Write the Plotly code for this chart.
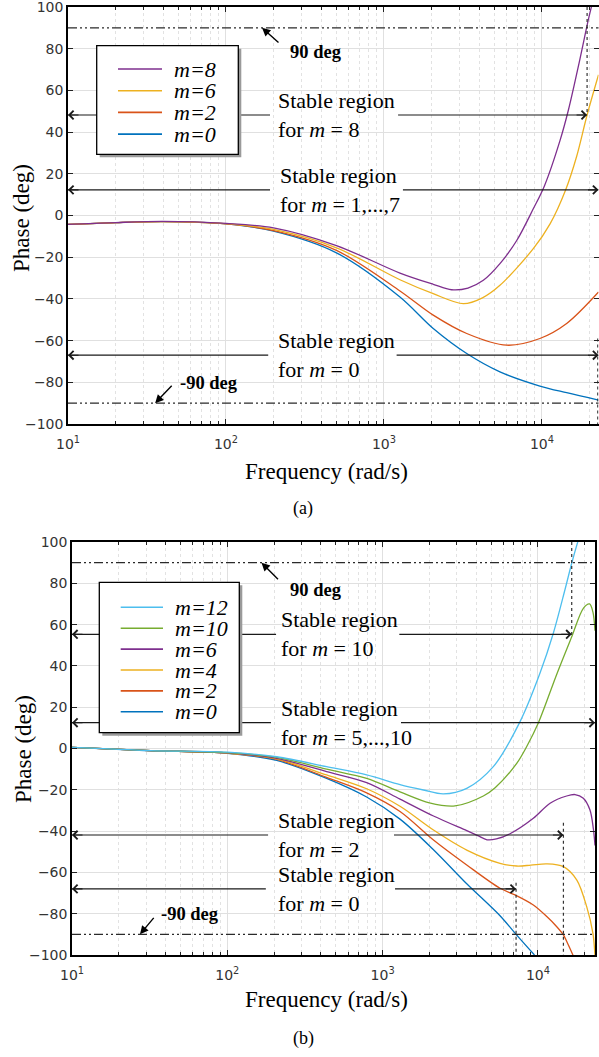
import numpy as np
import plotly.graph_objects as go

W, H = 599, 1057

# ---------------- panel (a) data ----------------
a_names = ["m=8", "m=6", "m=2", "m=0"]
a_colors = ["#7E2F8E", "#EDB120", "#D95319", "#0072BD"]
a_f_m8 = [10, 20, 40, 100, 200, 500, 1262, 2050, 2680, 3400, 4254, 5420, 6920, 8810, 10360, 13000, 14700, 17400, 19640, 21000]
a_p_m8 = [-4.3, -3.4, -2.8, -3.8, -5.9, -14.4, -27.6, -33.0, -35.6, -34.8, -31.1, -23.1, -12.0, 3.2, 14.2, 35.9, 50.6, 75.1, 93.8, 103.0]
a_f_m6 = [10, 20, 40, 100, 200, 500, 1262, 2050, 3180, 4200, 5420, 8810, 11250, 14130, 16550, 19300, 22800]
a_p_m6 = [-4.3, -3.4, -2.9, -3.9, -6.7, -15.5, -30.8, -37.5, -42.3, -39.5, -33.5, -15.9, -4.0, 12.4, 28.2, 48.2, 67.5]
a_f_m2 = [10, 20, 40, 100, 200, 500, 1262, 2050, 3340, 5980, 9700, 14330, 22800]
a_p_m2 = [-4.3, -3.4, -2.9, -4.0, -7.2, -16.7, -36.2, -47.8, -56.6, -62.2, -59.0, -51.8, -36.7]
a_f_m0 = [10, 20, 40, 100, 200, 500, 1262, 2050, 3340, 5420, 9700, 14330, 22800]
a_p_m0 = [-4.3, -3.4, -2.9, -4.0, -7.5, -17.9, -39.1, -54.2, -66.2, -75.0, -81.8, -85.0, -88.5]
a_freqs = [a_f_m8, a_f_m6, a_f_m2, a_f_m0]
a_phases = [a_p_m8, a_p_m6, a_p_m2, a_p_m0]
a_xmax = 22790

a_arrow_levels = [48.2, 12.3, -67.0]
a_arrow_text = ["Stable region<br>for <i>m</i> = 8",
                "Stable region<br>for <i>m</i> = 1,...,7",
                "Stable region<br>for <i>m</i> = 0"]
a_arrow_left_tail = [190, 190, 185]
a_arrow_right_tail = [1228, 1318, 1202]
a_arrow_right_head = [19300, a_xmax, a_xmax]
a_text_f = [207, 213, 207]
a_vlines = [(19300, 100, 48.2), (22550, -59, -100)]

# ---------------- panel (b) data ----------------
b_names = ["m=12", "m=10", "m=6", "m=4", "m=2", "m=0"]
b_colors = ["#4DBEEE", "#77AC30", "#7E2F8E", "#EDB120", "#D95319", "#0072BD"]
b_f_m12 = [10, 32, 100, 208, 436, 789, 1294, 1830, 2460, 3480, 5160, 7670, 10300, 12560, 14940, 16500, 18200, 19500]
b_p_m12 = [0.5, -1.0, -1.8, -4.0, -8.8, -12.8, -17.5, -20.1, -22.0, -19.3, -8.8, 13.0, 36.4, 55.8, 77.0, 89.7, 101.0, 108.0]
b_f_m10 = [10, 32, 100, 208, 436, 789, 1294, 2000, 2925, 4450, 5300, 7300, 8470, 10070, 13220, 16500, 19600, 21500, 22600, 23300]
b_p_m10 = [0.5, -1.0, -2.0, -4.3, -10.0, -14.5, -21.0, -26.3, -27.8, -23.0, -19.0, -7.2, 1.0, 12.5, 36.0, 54.1, 67.9, 70.0, 66.0, 57.0]
b_f_m6 = [10, 32, 100, 208, 436, 789, 1294, 2125, 3480, 4100, 4700, 5400, 6610, 9340, 11970, 15300, 17330, 19600, 21630, 22750, 23300]
b_p_m6 = [0.5, -1.0, -2.1, -4.8, -11.2, -16.5, -24.5, -32.7, -39.8, -42.2, -44.2, -43.8, -41.3, -33.8, -26.5, -23.0, -22.3, -24.1, -29.8, -39.0, -47.0]
b_f_m4 = [10, 32, 100, 208, 436, 789, 1294, 2125, 3480, 5700, 7300, 9000, 11400, 14590, 17800, 20600, 22600, 23300]
b_p_m4 = [0.5, -1.0, -2.2, -5.0, -12.8, -19.5, -28.0, -39.5, -49.2, -55.6, -56.9, -56.5, -55.9, -57.2, -63.7, -76.6, -89.5, -100.5]
b_f_m2 = [10, 32, 100, 208, 436, 789, 1294, 2125, 3480, 5700, 7110, 9340, 11400, 13220, 14590, 15700, 16900]
b_p_m2 = [0.5, -1.0, -2.2, -5.3, -14.0, -21.5, -30.5, -44.3, -56.4, -67.7, -70.9, -75.8, -81.4, -86.3, -90.3, -95.2, -100.5]
b_f_m0 = [10, 32, 100, 208, 436, 789, 1294, 2125, 3480, 5700, 7230, 9500]
b_p_m0 = [0.5, -1.1, -2.3, -5.8, -14.5, -23.5, -34.2, -49.0, -65.5, -81.0, -90.0, -100.0]
b_freqs = [b_f_m12, b_f_m10, b_f_m6, b_f_m4, b_f_m2, b_f_m0]
b_phases = [b_p_m12, b_p_m10, b_p_m6, b_p_m4, b_p_m2, b_p_m0]
b_xmax = 23300

b_arrow_levels = [55.3, 12.5, -41.9, -68.0]
b_arrow_text = ["Stable region<br>for <i>m</i> = 10",
                "Stable region<br>for <i>m</i> = 5,...,10",
                "Stable region<br>for <i>m</i> = 2",
                "Stable region<br>for <i>m</i> = 0"]
b_arrow_left_tail = [206, 191, 183, 177]
b_arrow_right_tail = [1281, 1313, 1183, 1202]
b_arrow_right_head = [16500, b_xmax, 14590, 7230]
b_text_f = [215, 215, 206, 206]
b_vlines = [(16500, 100, 55.3), (14590, -36, -100), (7230, -65, -100)]

y_ticks = list(range(-100, 101, 20))
x_major = [10, 100, 1000, 10000]
x_major_text = ["10<sup>1</sup>", "10<sup>2</sup>", "10<sup>3</sup>", "10<sup>4</sup>"]

SERIF = "Liberation Serif"
SANS = "DejaVu Sans"


def PX(x):
    return x / W


def PY(y):
    return 1 - y / H


fig = go.Figure()

# curves
for xa, ya, freqs, phases, colors, names in [
    ("x", "y", a_freqs, a_phases, a_colors, a_names),
    ("x2", "y2", b_freqs, b_phases, b_colors, b_names),
]:
    for f, p, c, n in reversed(list(zip(freqs, phases, colors, names))):
        fig.add_trace(go.Scatter(x=f, y=p, mode="lines", name=n, xaxis=xa, yaxis=ya,
                                 line=dict(color=c, width=1.3, shape="spline", smoothing=0.9),
                                 showlegend=False, hoverinfo="skip"))

annotations = []
shapes = []


def add_panel_extras(xa, ya, xmax, levels, texts, ltail, rtail, rhead, textf, vlines):
    for lvl, t, lt, rt, rh, tf in zip(levels, texts, ltail, rtail, rhead, textf):
        # arrow shafts
        fig.add_trace(go.Scatter(x=[10, lt, None, rt, rh], y=[lvl, lvl, None, lvl, lvl],
                                 mode="lines", xaxis=xa, yaxis=ya,
                                 line=dict(color="#1a1a1a", width=1.2),
                                 showlegend=False, hoverinfo="skip"))
        # arrow heads (open chevrons)
        for hx, off in [(10, 12), (rh, -12)]:
            annotations.append(dict(xref=xa, yref=ya, x=np.log10(hx), y=lvl, ax=off, ay=0,
                                    text="", showarrow=True, arrowhead=4, arrowsize=1.5,
                                    arrowwidth=1.1, arrowcolor="#1a1a1a", standoff=0))
        annotations.append(dict(xref=xa, yref=ya, x=np.log10(tf), y=lvl, text=t,
                                showarrow=False, xanchor="left", yanchor="middle", align="left",
                                font=dict(family=SERIF, size=22, color="black")))
    for vf, y0, y1 in vlines:
        fig.add_trace(go.Scatter(x=[vf, vf], y=[y0, y1], mode="lines", xaxis=xa, yaxis=ya,
                                 line=dict(color="#333333", width=1.2, dash="dot"),
                                 showlegend=False, hoverinfo="skip"))
    for lvl in (90, -90):
        shapes.append(dict(type="line", xref=xa + " domain", x0=0, x1=1, yref=ya, y0=lvl, y1=lvl,
                           line=dict(color="#2a2a2a", width=1.4, dash="9px,3px,2px,3px,2px,3px"),
                           layer="above"))


add_panel_extras("x", "y", a_xmax, a_arrow_levels, a_arrow_text, a_arrow_left_tail,
                 a_arrow_right_tail, a_arrow_right_head, a_text_f, a_vlines)
add_panel_extras("x2", "y2", b_xmax, b_arrow_levels, b_arrow_text, b_arrow_left_tail,
                 b_arrow_right_tail, b_arrow_right_head, b_text_f, b_vlines)

# 90 / -90 deg labels with filled arrows
deg_marks = [
    ("x", "y", 169, 90, 18, 16, "<b>90 deg</b>", 288, 52),
    ("x", "y", 35.6, -90, 18, -19, "<b>-90 deg</b>", 178, 383),
    ("x2", "y2", 166, 90, 18, 18, "<b>90 deg</b>", 288, 590),
    ("x2", "y2", 27.4, -90, 15, -18, "<b>-90 deg</b>", 159, 914),
]
for xa, ya, hf, hy, ax, ay, txt, tx, ty in deg_marks:
    annotations.append(dict(xref=xa, yref=ya, x=np.log10(hf), y=hy, ax=ax, ay=ay, text="",
                            showarrow=True, arrowhead=2, arrowsize=1.2, arrowwidth=1.4,
                            arrowcolor="black", standoff=0))
    annotations.append(dict(xref="paper", yref="paper", x=PX(tx), y=PY(ty), text=txt,
                            showarrow=False, xanchor="left", yanchor="middle",
                            font=dict(family=SERIF, size=18.5, color="black")))

# manual legends
legends = [
    (a_names, a_colors, (96.7, 45.7, 238.3, 154.3), 69.0, 21.7, 118, 162, 171.7),
    (b_names, b_colors, (99.3, 582.3, 239.3, 732.7), 607.3, 20.9, 120.7, 163, 172.7),
]
for names, colors, (bx0, by0, bx1, by1), r0, dr, lx0, lx1, tx in legends:
    shapes.append(dict(type="rect", xref="paper", yref="paper", x0=PX(bx0 + 3), x1=PX(bx1 + 3),
                       y0=PY(by0 + 3), y1=PY(by1 + 3), fillcolor="#9a9a9a",
                       line=dict(width=0), layer="above"))
    shapes.append(dict(type="rect", xref="paper", yref="paper", x0=PX(bx0), x1=PX(bx1),
                       y0=PY(by0), y1=PY(by1), fillcolor="white",
                       line=dict(color="black", width=1.3), layer="above"))
    for i, (n, c) in enumerate(zip(names, colors)):
        ry = r0 + i * dr
        shapes.append(dict(type="line", xref="paper", yref="paper", x0=PX(lx0), x1=PX(lx1),
                           y0=PY(ry), y1=PY(ry), line=dict(color=c, width=1.6), layer="above"))
        annotations.append(dict(xref="paper", yref="paper", x=PX(tx), y=PY(ry), text="<i>" + n + "</i>",
                                showarrow=False, xanchor="left", yanchor="middle",
                                font=dict(family=SERIF, size=22, color="black")))

# axis titles and captions
for txt, x, y, ang in [("Phase (deg)", 21, 218, -90), ("Phase (deg)", 23, 749, -90),
                       ("Frequency (rad/s)", 326, 471, 0), ("Frequency (rad/s)", 326, 999, 0)]:
    annotations.append(dict(xref="paper", yref="paper", x=PX(x), y=PY(y), text=txt, textangle=ang,
                            showarrow=False, xanchor="center", yanchor="middle",
                            font=dict(family=SERIF, size=23, color="black")))
for txt, y in [("(a)", 508), ("(b)", 1038)]:
    annotations.append(dict(xref="paper", yref="paper", x=PX(303), y=PY(y), text=txt,
                            showarrow=False, xanchor="center", yanchor="middle",
                            font=dict(family=SERIF, size=18, color="black")))


def minor_vals(xmax):
    vals = []
    for d in [10, 100, 1000, 10000]:
        for k in range(2, 10):
            if d * k <= xmax:
                vals.append(d * k)
    return vals


def xaxis_cfg(domain, xmax, anchor):
    return dict(type="log", domain=domain, range=[1, np.log10(xmax)], anchor=anchor,
                automargin=False, ticklabeloverflow="allow",
                tickmode="array", tickvals=x_major, ticktext=x_major_text,
                ticks="inside", ticklen=5, tickwidth=1, tickcolor="#222",
                showline=True, linecolor="black", linewidth=1.5, mirror="ticks",
                showgrid=True, gridcolor="#e0e0e0", gridwidth=1, zeroline=False,
                minor=dict(tickmode="array", tickvals=minor_vals(xmax), ticks="inside", ticklen=3,
                           tickcolor="#222", showgrid=True, gridcolor="#e2e2e2", griddash="dot",
                           gridwidth=1),
                tickfont=dict(family=SANS, size=14, color="#333333"),
                ticklabelstandoff=6)


def yaxis_cfg(domain, anchor):
    return dict(domain=domain, range=[-100, 100], anchor=anchor,
                automargin=False, ticklabeloverflow="allow",
                tickmode="array", tickvals=y_ticks,
                ticks="inside", ticklen=5, tickwidth=1, tickcolor="#222",
                showline=True, linecolor="black", linewidth=1.5, mirror="ticks",
                showgrid=True, gridcolor="#e0e0e0", gridwidth=1, zeroline=False,
                tickfont=dict(family=SANS, size=14, color="#333333"))


fig.update_layout(
    width=W, height=H, margin=dict(l=0, r=0, t=0, b=0, autoexpand=False),
    paper_bgcolor="white", plot_bgcolor="white", showlegend=False,
    xaxis=xaxis_cfg([68 / W, 598.5 / W], a_xmax, "y"),
    yaxis=yaxis_cfg([PY(424), PY(7)], "x"),
    xaxis2=xaxis_cfg([72 / W, 595 / W], b_xmax, "y2"),
    yaxis2=yaxis_cfg([PY(955), PY(542)], "x2"),
    annotations=annotations, shapes=shapes,
)

fig.write_html("out.html")
